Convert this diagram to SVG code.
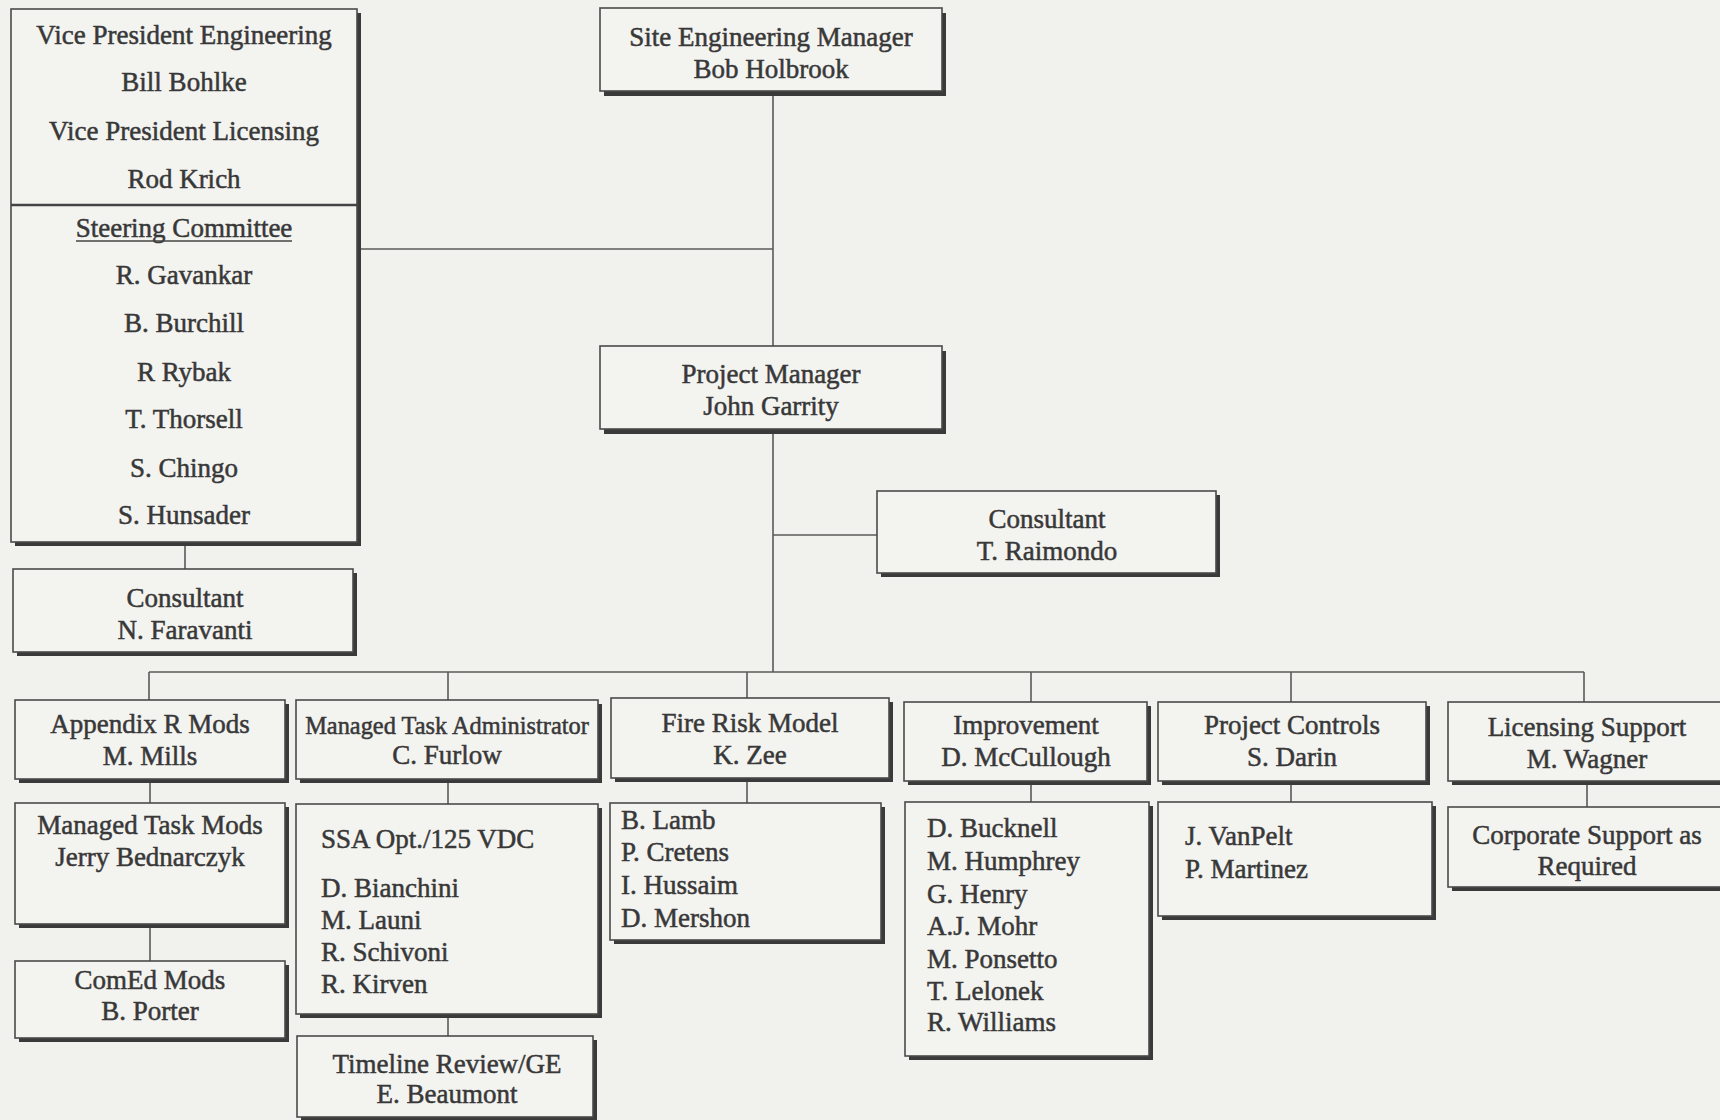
<svg xmlns="http://www.w3.org/2000/svg" width="1720" height="1120" viewBox="0 0 1720 1120">
<style>
.bg{fill:#f1f1ee}
.sh{fill:#3a3a3a}
.bx{fill:#f3f3f0;stroke:#4a4a4a;stroke-width:1.6}
.t{font-family:"Liberation Serif","Times New Roman",serif;font-size:27px;fill:#383838;stroke:#383838;stroke-width:0.5}
.m{text-anchor:middle}
.c{stroke:#5a5a5a;stroke-width:1.6;fill:none}
.dv{stroke:#444;stroke-width:2.4}
.ul{stroke:#444;stroke-width:1.4}
</style>
<rect class="bg" x="0" y="0" width="1720" height="1120"/>

<g id="connectors">
  <path class="c" d="M357 249 H773"/>
  <path class="c" d="M773 91 V672"/>
  <path class="c" d="M773 535 H877"/>
  <path class="c" d="M185 542 V569"/>
  <path class="c" d="M149 672 H1584"/>
  <path class="c" d="M149 672 V700 M448 672 V700 M747 672 V698 M1031 672 V702 M1291 672 V702 M1584 672 V702"/>
  <path class="c" d="M150 779 V803 M150 924 V961"/>
  <path class="c" d="M448 779 V804 M448 1014 V1036"/>
  <path class="c" d="M747 778 V803"/>
  <path class="c" d="M1031 781 V802"/>
  <path class="c" d="M1291 781 V802"/>
  <path class="c" d="M1587 781 V807"/>
</g>

<g id="executives">
  <rect class="sh" x="15" y="13" width="346" height="533"/>
  <rect class="bx" x="11" y="9" width="346" height="533"/>
  <line class="dv" x1="11" y1="205" x2="357" y2="205"/>
  <text class="t m" x="184" y="44">Vice President Engineering</text>
  <text class="t m" x="184" y="91">Bill Bohlke</text>
  <text class="t m" x="184" y="140">Vice President Licensing</text>
  <text class="t m" x="184" y="188">Rod Krich</text>
  <text class="t m" x="184" y="237">Steering Committee</text>
  <line class="ul" x1="76" y1="241" x2="292" y2="241"/>
  <text class="t m" x="184" y="284">R. Gavankar</text>
  <text class="t m" x="184" y="332">B. Burchill</text>
  <text class="t m" x="184" y="381">R Rybak</text>
  <text class="t m" x="184" y="428">T. Thorsell</text>
  <text class="t m" x="184" y="477">S. Chingo</text>
  <text class="t m" x="184" y="524">S. Hunsader</text>
</g>

<g id="site-engineering-manager">
  <rect class="sh" x="604" y="13" width="342" height="83"/>
  <rect class="bx" x="600" y="8" width="342" height="83"/>
  <text class="t m" x="771" y="46">Site Engineering Manager</text>
  <text class="t m" x="771" y="78">Bob Holbrook</text>
</g>

<g id="project-manager">
  <rect class="sh" x="604" y="351" width="342" height="83"/>
  <rect class="bx" x="600" y="346" width="342" height="83"/>
  <text class="t m" x="771" y="383">Project Manager</text>
  <text class="t m" x="771" y="415">John Garrity</text>
</g>

<g id="consultant-raimondo">
  <rect class="sh" x="881" y="495" width="339" height="82"/>
  <rect class="bx" x="877" y="491" width="339" height="82"/>
  <text class="t m" x="1047" y="528">Consultant</text>
  <text class="t m" x="1047" y="560">T. Raimondo</text>
</g>

<g id="consultant-faravanti">
  <rect class="sh" x="17" y="573" width="340" height="83"/>
  <rect class="bx" x="13" y="569" width="340" height="83"/>
  <text class="t m" x="185" y="607">Consultant</text>
  <text class="t m" x="185" y="639">N. Faravanti</text>
</g>

<g id="appendix-r-mods">
  <rect class="sh" x="19" y="704" width="270" height="79"/>
  <rect class="bx" x="15" y="700" width="270" height="79"/>
  <text class="t m" x="150" y="733">Appendix R Mods</text>
  <text class="t m" x="150" y="765">M. Mills</text>
</g>

<g id="managed-task-administrator">
  <rect class="sh" x="300" y="704" width="302" height="79"/>
  <rect class="bx" x="296" y="700" width="302" height="79"/>
  <text class="t m" x="447" y="734" style="font-size:24.4px">Managed Task Administrator</text>
  <text class="t m" x="447" y="764">C. Furlow</text>
</g>

<g id="fire-risk-model">
  <rect class="sh" x="615" y="702" width="278" height="80"/>
  <rect class="bx" x="611" y="698" width="278" height="80"/>
  <text class="t m" x="750" y="732">Fire Risk Model</text>
  <text class="t m" x="750" y="764">K. Zee</text>
</g>

<g id="improvement">
  <rect class="sh" x="908" y="706" width="243" height="79"/>
  <rect class="bx" x="904" y="702" width="243" height="79"/>
  <text class="t m" x="1026" y="734">Improvement</text>
  <text class="t m" x="1026" y="766">D. McCullough</text>
</g>

<g id="project-controls">
  <rect class="sh" x="1162" y="706" width="268" height="79"/>
  <rect class="bx" x="1158" y="702" width="268" height="79"/>
  <text class="t m" x="1292" y="734">Project Controls</text>
  <text class="t m" x="1292" y="766">S. Darin</text>
</g>

<g id="licensing-support">
  <rect class="sh" x="1452" y="706" width="280" height="79"/>
  <rect class="bx" x="1448" y="702" width="280" height="79"/>
  <text class="t m" x="1587" y="736">Licensing Support</text>
  <text class="t m" x="1587" y="768">M. Wagner</text>
</g>

<g id="managed-task-mods">
  <rect class="sh" x="19" y="807" width="270" height="121"/>
  <rect class="bx" x="15" y="803" width="270" height="121"/>
  <text class="t m" x="150" y="834">Managed Task Mods</text>
  <text class="t m" x="150" y="866">Jerry Bednarczyk</text>
</g>

<g id="comed-mods">
  <rect class="sh" x="19" y="965" width="270" height="77"/>
  <rect class="bx" x="15" y="961" width="270" height="77"/>
  <text class="t m" x="150" y="989">ComEd Mods</text>
  <text class="t m" x="150" y="1020">B. Porter</text>
</g>

<g id="ssa-125vdc">
  <rect class="sh" x="300" y="808" width="302" height="210"/>
  <rect class="bx" x="296" y="804" width="302" height="210"/>
  <text class="t" x="321" y="848">SSA Opt./125 VDC</text>
  <text class="t" x="321" y="897">D. Bianchini</text>
  <text class="t" x="321" y="929">M. Launi</text>
  <text class="t" x="321" y="961">R. Schivoni</text>
  <text class="t" x="321" y="993">R. Kirven</text>
</g>

<g id="timeline-review">
  <rect class="sh" x="301" y="1040" width="296" height="81"/>
  <rect class="bx" x="297" y="1036" width="296" height="81"/>
  <text class="t m" x="447" y="1073">Timeline Review/GE</text>
  <text class="t m" x="447" y="1103">E. Beaumont</text>
</g>

<g id="fire-risk-team">
  <rect class="sh" x="614" y="807" width="271" height="137"/>
  <rect class="bx" x="610" y="803" width="271" height="137"/>
  <text class="t" x="621" y="829">B. Lamb</text>
  <text class="t" x="621" y="861">P. Cretens</text>
  <text class="t" x="621" y="894">I. Hussaim</text>
  <text class="t" x="621" y="927">D. Mershon</text>
</g>

<g id="improvement-team">
  <rect class="sh" x="909" y="806" width="244" height="254"/>
  <rect class="bx" x="905" y="802" width="244" height="254"/>
  <text class="t" x="927" y="837">D. Bucknell</text>
  <text class="t" x="927" y="870">M. Humphrey</text>
  <text class="t" x="927" y="903">G. Henry</text>
  <text class="t" x="927" y="935">A.J. Mohr</text>
  <text class="t" x="927" y="968">M. Ponsetto</text>
  <text class="t" x="927" y="1000">T. Lelonek</text>
  <text class="t" x="927" y="1031">R. Williams</text>
</g>

<g id="project-controls-team">
  <rect class="sh" x="1162" y="806" width="274" height="114"/>
  <rect class="bx" x="1158" y="802" width="274" height="114"/>
  <text class="t" x="1185" y="845">J. VanPelt</text>
  <text class="t" x="1185" y="878">P. Martinez</text>
</g>

<g id="corporate-support">
  <rect class="sh" x="1452" y="811" width="280" height="80"/>
  <rect class="bx" x="1448" y="807" width="280" height="80"/>
  <text class="t m" x="1587" y="844">Corporate Support as</text>
  <text class="t m" x="1587" y="875">Required</text>
</g>
</svg>
